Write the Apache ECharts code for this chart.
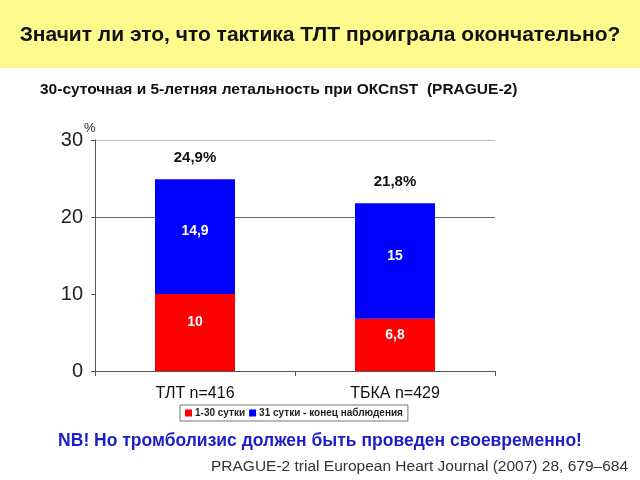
<!DOCTYPE html>
<html>
<head>
<meta charset="utf-8">
<script src="https://cdn.jsdelivr.net/npm/echarts@6/dist/echarts.min.js"></script>
<style>
  html, body { margin: 0; padding: 0; background: #fff; }
  #chart { width: 640px; height: 480px; }
</style>
</head>
<body>
<div id="chart"></div>
<script>
// данные
var categories = ['ТЛТ n=416', 'ТБКА n=429']
var early = [10, 6.8]      // 1-30 сутки
var late = [14.9, 15]      // 31 сутки - конец наблюдения
var yTicks = [0, 10, 20, 30]

function fmt(v) {
  return String(Math.round(v * 10) / 10).replace('.', ',')
}

var myChart = echarts.init(document.getElementById('chart'))
var font = '"Liberation Sans", Arial, sans-serif'

myChart.setOption({
  backgroundColor: '#fff',
  animation: false,
  textStyle: { fontFamily: font },
  graphic: [
    // жёлтая плашка заголовка
    { type: 'rect', left: 0, top: 0, shape: { width: 640, height: 68 }, style: { fill: '#fdfa8e' }, z: -1 },
    { type: 'text', left: 'center', top: 25, style: { text: 'Значит ли это, что тактика ТЛТ проиграла окончательно?', font: 'bold 21px ' + font, fill: '#111' } },
    { type: 'text', left: 40, top: 82, style: { text: '30-суточная и 5-летняя летальность при ОКСпST  (PRAGUE-2)', font: 'bold 15.5px ' + font, fill: '#111' } },
    { type: 'text', left: 84, top: 122, style: { text: '%', font: '13px ' + font, fill: '#222' } },
    { type: 'text', left: 'center', top: 432, style: { text: 'NB! Но тромболизис должен быть проведен своевременно!', font: 'bold 17.5px ' + font, fill: '#1c1cc8' } },
    { type: 'text', right: 12, top: 459, style: { text: 'PRAGUE-2 trial European Heart Journal (2007) 28, 679–684', font: '15.5px ' + font, fill: '#333' } }
  ],
  legend: {
    top: 405,
    left: 180,
    icon: 'rect',
    itemWidth: 7,
    itemHeight: 7,
    itemGap: 4,
    padding: [3, 5],
    borderColor: '#777',
    borderWidth: 1,
    textStyle: { fontSize: 10, fontWeight: 'bold', color: '#222', padding: [0, 0, 0, -2] },
    data: ['1-30 сутки', '31 сутки - конец наблюдения']
  },
  grid: { left: 95, right: 145, top: 140, bottom: 109 },
  xAxis: {
    type: 'category',
    data: categories,
    axisLine: { lineStyle: { color: '#555' } },
    axisTick: { show: true, length: 5, lineStyle: { color: '#555' } },
    axisLabel: { fontSize: 16, color: '#111', margin: 15 }
  },
  yAxis: {
    type: 'value',
    min: 0,
    max: 30,
    interval: 10,
    axisLine: { show: true, lineStyle: { color: '#555' } },
    axisTick: { show: true, length: 4, lineStyle: { color: '#555' } },
    axisLabel: { fontSize: 20, color: '#222', margin: 12 },
    // видны только линии на 20 и 30
    splitLine: { show: true, lineStyle: { color: ['rgba(0,0,0,0)', 'rgba(0,0,0,0)', '#666', '#bbb'] } }
  },
  series: [
    {
      name: '1-30 сутки',
      type: 'bar',
      stack: 'total',
      data: early,
      barWidth: 80,
      itemStyle: { color: '#ff0000' },
      label: {
        show: true,
        position: 'inside',
        offset: [0, -10],
        color: '#fff',
        fontSize: 14,
        fontWeight: 'bold',
        formatter: function (p) { return fmt(p.value) }
      }
    },
    {
      name: '31 сутки - конец наблюдения',
      type: 'bar',
      stack: 'total',
      data: late,
      itemStyle: { color: '#0000ff' },
      label: {
        show: true,
        position: 'inside',
        offset: [0, -5],
        color: '#fff',
        fontSize: 14,
        fontWeight: 'bold',
        formatter: function (p) { return fmt(p.value) }
      }
    },
    {
      // итог над столбиком
      name: 'total',
      type: 'bar',
      stack: 'total',
      data: early.map(function () { return 0 }),
      itemStyle: { color: 'rgba(0,0,0,0)' },
      label: {
        show: true,
        position: 'top',
        distance: 14,
        color: '#111',
        fontSize: 15,
        fontWeight: 'bold',
        formatter: function (p) { return fmt(early[p.dataIndex] + late[p.dataIndex]) + '%' }
      }
    }
  ]
})
</script>
</body>
</html>
